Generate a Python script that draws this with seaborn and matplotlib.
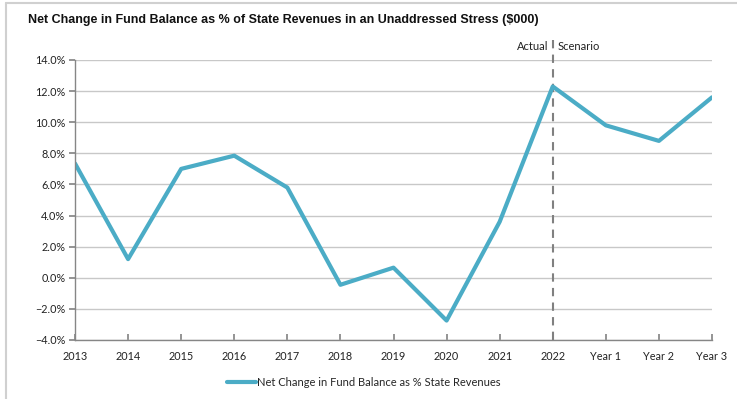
import matplotlib
matplotlib.use("Agg")
import matplotlib.pyplot as plt
from matplotlib.lines import Line2D
from matplotlib.ticker import PercentFormatter
import seaborn as sns
import pandas as pd

categories = ["2013", "2014", "2015", "2016", "2017", "2018", "2019", "2020",
              "2021", "2022", "Year 1", "Year 2", "Year 3"]
values = [7.35, 1.2, 7.0, 7.85, 5.8, -0.45, 0.65, -2.75, 3.6, 12.3, 9.8, 8.8, 11.6]
series_name = "Net Change in Fund Balance as % State Revenues"
title = "Net Change in Fund Balance as % of State Revenues in an Unaddressed Stress ($000)"

df = pd.DataFrame({"x": range(len(categories)), "v": values, "s": series_name})

sns.set_theme(style="white")
plt.rcParams['font.family'] = ['Lato', 'DejaVu Sans']

fig = plt.figure(figsize=(7.37, 3.99), dpi=100)
ax = fig.add_axes([75/737, 1-340/399, (712-75)/737, 280/399])

sns.lineplot(data=df, x="x", y="v", hue="s", palette=["#4BACC6"], linewidth=3,
             ax=ax, legend=True)

ax.set_xlim(0, len(categories)-1)
ax.set_ylim(-4, 14)
ax.set_yticks([-4, -2, 0, 2, 4, 6, 8, 10, 12, 14])
ax.yaxis.set_major_formatter(PercentFormatter(decimals=1))
ax.set_xticks(range(len(categories)))
ax.set_xticklabels(categories)
ax.set_xlabel("")
ax.set_ylabel("")
ax.grid(axis="y", color="#c8c8c8", linewidth=1)
ax.set_axisbelow(True)
for side in ["top", "right"]:
    ax.spines[side].set_visible(False)
for side in ["left", "bottom"]:
    ax.spines[side].set_color("#868686")
    ax.spines[side].set_linewidth(1)
ax.tick_params(axis="y", left=True, length=4, color="#868686", labelsize=7.8,
               labelcolor="#222222", pad=3)
ax.tick_params(axis="x", bottom=True, length=4, direction="in", color="#868686",
               labelsize=7.8, labelcolor="#222222", pad=8)

# Actual / Scenario divider
ax.axvline(9, ymin=0, ymax=1.075, color="#808080", linestyle=(0, (4, 3)),
           linewidth=1.5, clip_on=False, zorder=1)
ax.text(8.92, 14.9, "Actual", ha="right", va="center", fontsize=8, color="#222222")
ax.text(9.1, 14.9, "Scenario", ha="left", va="center", fontsize=8, color="#222222")

fig.text(28/737, 1-20/399, title, ha="left", va="center", fontsize=9,
         fontweight="bold", family=["Liberation Sans", "DejaVu Sans"], color="#111111")

leg = ax.legend(loc="center", bbox_to_anchor=(364/737, 1-382/399),
                bbox_transform=fig.transFigure, frameon=False,
                fontsize=8, handlelength=2.6, handletextpad=0.1)

fig.add_artist(Line2D([6/737, 6/737], [0, 1-3/399], color="#d0d0d0", linewidth=1.5))
fig.add_artist(Line2D([6/737, 1], [1-3/399, 1-3/399], color="#d0d0d0", linewidth=1.5))

fig.savefig("out.png", dpi=100, facecolor="white")
